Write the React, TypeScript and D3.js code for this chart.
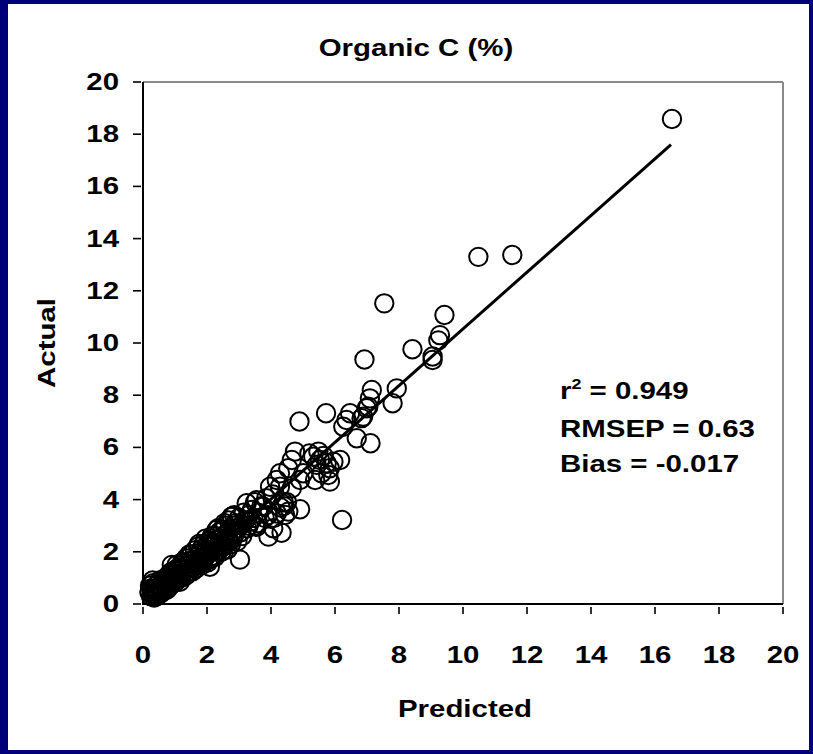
import React from "react";
import * as d3 from "d3";

const title = "Organic C (%)";
const xLabel = "Predicted";
const yLabel = "Actual";
const xTicks = [0, 2, 4, 6, 8, 10, 12, 14, 16, 18, 20];
const yTicks = [0, 2, 4, 6, 8, 10, 12, 14, 16, 18, 20];
const stats = ["= 0.949", "RMSEP = 0.63", "Bias = -0.017"];

const predicted = [
  0.2, 0.22, 0.25, 0.28, 0.3, 0.32, 0.35, 0.38, 0.4, 0.42, 0.45, 0.48, 0.5, 0.52, 0.55, 0.58, 0.6, 0.62, 0.65, 0.68, 0.7, 0.72, 0.75, 0.78, 0.8, 0.82, 0.85, 0.88, 0.9, 0.92, 0.95, 0.98,
  1.0, 1.02, 1.05, 1.08, 1.1, 1.12, 1.15, 1.18, 1.2, 1.22, 1.25, 1.28, 1.3, 1.32, 1.35, 1.38, 1.4, 1.42, 1.45, 1.48, 1.5, 1.52, 1.55, 1.58, 1.6, 1.62, 1.65, 1.68, 1.7, 1.72, 1.75, 1.78, 1.8, 1.82, 1.85, 1.88, 1.9, 1.92, 1.95, 1.98,
  2.0, 2.03, 2.05, 2.08, 2.1, 2.12, 2.15, 2.18, 2.2, 2.22, 2.25, 2.28, 2.3, 2.32, 2.35, 2.38, 2.4, 2.42, 2.45, 2.48, 2.5, 2.52, 2.55, 2.58, 2.6, 2.62, 2.65, 2.68, 2.7, 2.72, 2.75, 2.78, 2.8, 2.85, 2.88, 2.9, 2.95, 3.0, 3.03, 3.05, 3.1, 3.15, 3.2, 3.25, 3.3, 3.35, 3.4, 3.45, 3.5, 3.55, 3.6, 3.7, 3.76, 3.85, 3.9, 3.97, 4.05, 2.77, 2.3, 2.09, 3.24,
  3.55, 3.92, 4.07, 4.33, 4.18, 4.44, 4.54, 4.91, 4.28, 4.65, 4.18, 4.28, 4.54, 4.65, 4.75, 4.89, 5.72, 5.2, 5.32, 5.48, 5.53, 5.64, 5.74, 5.84, 5.95, 6.16, 5.38, 5.58, 5.79, 5.84, 5.43, 5.01, 4.91, 6.22, 6.26, 6.47, 6.36, 6.68, 7.11, 6.83, 6.99, 7.09, 7.15, 7.8, 7.93, 6.88, 7.04, 4.3, 4.4, 3.5,
  6.92, 8.42, 9.05, 9.05, 9.23, 9.28, 9.42, 7.54, 10.48, 11.54, 16.53,
  0.25, 0.3, 0.35, 0.45, 0.55, 0.65, 0.75, 0.85, 0.95, 1.05, 1.15, 1.25, 1.35, 1.45, 1.55, 1.65, 1.75, 1.85, 1.95, 2.05, 2.15, 2.25, 2.35, 2.45, 2.55, 2.65, 2.75, 2.85, 2.95, 3.1, 3.3, 3.6, 3.8, 4.1, 4.4, 4.5,
];
const actual = [
  0.45, 0.7, 0.3, 0.55, 0.4, 0.8, 0.35, 0.6, 0.5, 0.3, 0.75, 0.45, 0.6, 0.9, 0.4, 0.7, 0.55, 0.85, 0.5, 0.7, 1.0, 0.6, 0.8, 0.65, 1.1, 0.85, 0.7, 1.0, 1.5, 0.8, 1.15, 0.95,
  1.3, 0.85, 1.05, 1.25, 0.95, 1.4, 1.15, 1.0, 1.35, 1.6, 1.2, 1.05, 1.45, 1.3, 1.75, 1.2, 1.5, 1.35, 1.65, 1.25, 1.55, 1.9, 1.4, 1.7, 1.55, 2.05, 1.45, 1.8, 1.65, 2.2, 1.55, 1.95, 1.75, 2.1, 1.6, 1.9, 2.3, 1.75, 2.05, 1.85,
  2.2, 1.6, 2.4, 2.0, 1.8, 2.25, 2.5, 2.05, 1.85, 2.35, 2.15, 2.6, 2.0, 2.45, 2.25, 2.75, 2.1, 2.5, 2.35, 2.85, 2.2, 2.6, 2.4, 3.0, 2.3, 2.7, 2.5, 3.2, 2.4, 2.85, 2.6, 3.35, 2.5, 3.0, 2.7, 3.1, 2.9, 3.3, 1.7, 2.75, 3.05, 3.5, 3.2, 2.9, 3.4, 3.15, 3.6, 3.3, 3.9, 3.98, 3.5, 3.75, 3.73, 4.05, 3.4, 4.49, 4.2, 3.34, 2.84, 1.43, 3.86,
  2.96, 2.58, 2.9, 2.73, 3.47, 3.41, 3.54, 3.63, 4.49, 4.43, 4.75, 5.01, 5.2, 5.52, 5.84, 6.99, 7.31, 5.77, 5.64, 5.84, 5.52, 5.67, 5.39, 5.2, 5.45, 5.52, 4.75, 5.01, 4.94, 4.69, 5.33, 5.01, 4.75, 3.22, 6.79, 7.31, 7.05, 6.35, 6.16, 7.12, 7.5, 7.88, 8.2, 7.69, 8.26, 7.18, 7.56, 3.7, 3.9, 3.0,
  9.37, 9.76, 9.48, 9.35, 10.1, 10.3, 11.07, 11.52, 13.3, 13.37, 18.58,
  0.6, 0.9, 0.25, 0.35, 0.7, 0.95, 0.55, 1.2, 0.8, 1.5, 0.85, 1.55, 1.1, 1.9, 1.25, 1.35, 2.3, 1.5, 2.5, 1.7, 2.6, 1.8, 2.9, 2.0, 3.1, 2.1, 2.3, 3.4, 2.4, 2.6, 3.0, 3.1, 3.3, 3.3, 3.75, 3.9,
];
const fitX = [0.3, 16.5];
const fitY = [0.0, 17.6];

const W = 813;
const H = 754;
const FONT = "'Liberation Sans', Arial, Helvetica, sans-serif";
const SX = 1.28;

function T({ x, y, size = 23, anchor = "start", rotate = 0, children }: any) {
  return (
    <text
      transform={`translate(${x},${y})${rotate ? ` rotate(${rotate})` : ""} scale(${SX},1)`}
      textAnchor={anchor}
      fontFamily={FONT}
      fontWeight="bold"
      fontSize={size}
      fill="#000"
    >
      {children}
    </text>
  );
}

export default function App() {
  const x = d3.scaleLinear().domain([0, 20]).range([143, 783]);
  const y = d3.scaleLinear().domain([0, 20]).range([604, 82]);
  const pts = predicted.map((p, i) => [p, actual[i]]);
  const line = d3.line<number>().x((d) => x(fitX[d])).y((d) => y(fitY[d]));

  return (
    <svg width={W} height={H} style={{ position: "absolute", left: 0, top: 0 }}>
      <rect x={0} y={0} width={W} height={H} fill="#000078" />
      <rect x={8} y={4} width={W - 12} height={H - 8} fill="#fff" />

      {/* frame */}
      <line x1={x(0)} x2={x(20)} y1={y(20)} y2={y(20)} stroke="#8a8a8a" strokeWidth={2} />
      <line x1={x(20)} x2={x(20)} y1={y(20)} y2={y(0)} stroke="#8a8a8a" strokeWidth={2} />

      {/* points */}
      {pts.map((d, i) => (
        <circle key={i} cx={x(d[0])} cy={y(d[1])} r={9.2} fill="none" stroke="#000" strokeWidth={2} />
      ))}

      {/* fit line */}
      <path d={line([0, 1]) || ""} stroke="#000" strokeWidth={3} fill="none" />

      {/* axes */}
      <line x1={x(0)} x2={x(0)} y1={y(20)} y2={y(0) + 1} stroke="#000" strokeWidth={2} />
      <line x1={x(0) - 1} x2={x(20)} y1={y(0)} y2={y(0)} stroke="#000" strokeWidth={2.2} />
      {xTicks.map((t) => (
        <g key={"xt" + t}>
          <line x1={x(t)} x2={x(t)} y1={y(0) + 3} y2={y(0) + 10} stroke="#000" strokeWidth={1.6} />
          <T x={x(t)} y={663} anchor="middle">{t}</T>
        </g>
      ))}
      {yTicks.map((t) => (
        <g key={"yt" + t}>
          <line x1={x(0) - 10} x2={x(0) - 2} y1={y(t)} y2={y(t)} stroke="#000" strokeWidth={1.6} />
          <T x={119} y={y(t) + 8} anchor="end">{t}</T>
        </g>
      ))}

      <T x={416} y={56} anchor="middle">{title}</T>
      <T x={465} y={717} anchor="middle">{xLabel}</T>
      <T x={55} y={343} anchor="middle" rotate={-90}>{yLabel}</T>

      <text transform={`translate(560,399) scale(${SX},1)`} fontFamily={FONT} fontWeight="bold" fontSize={23}>
        r<tspan fontSize={14} dy={-10}>2</tspan>
        <tspan dy={10}> {stats[0]}</tspan>
      </text>
      <T x={560} y={437} size={23}>{stats[1]}</T>
      <T x={560} y={472} size={23}>{stats[2]}</T>
    </svg>
  );
}
